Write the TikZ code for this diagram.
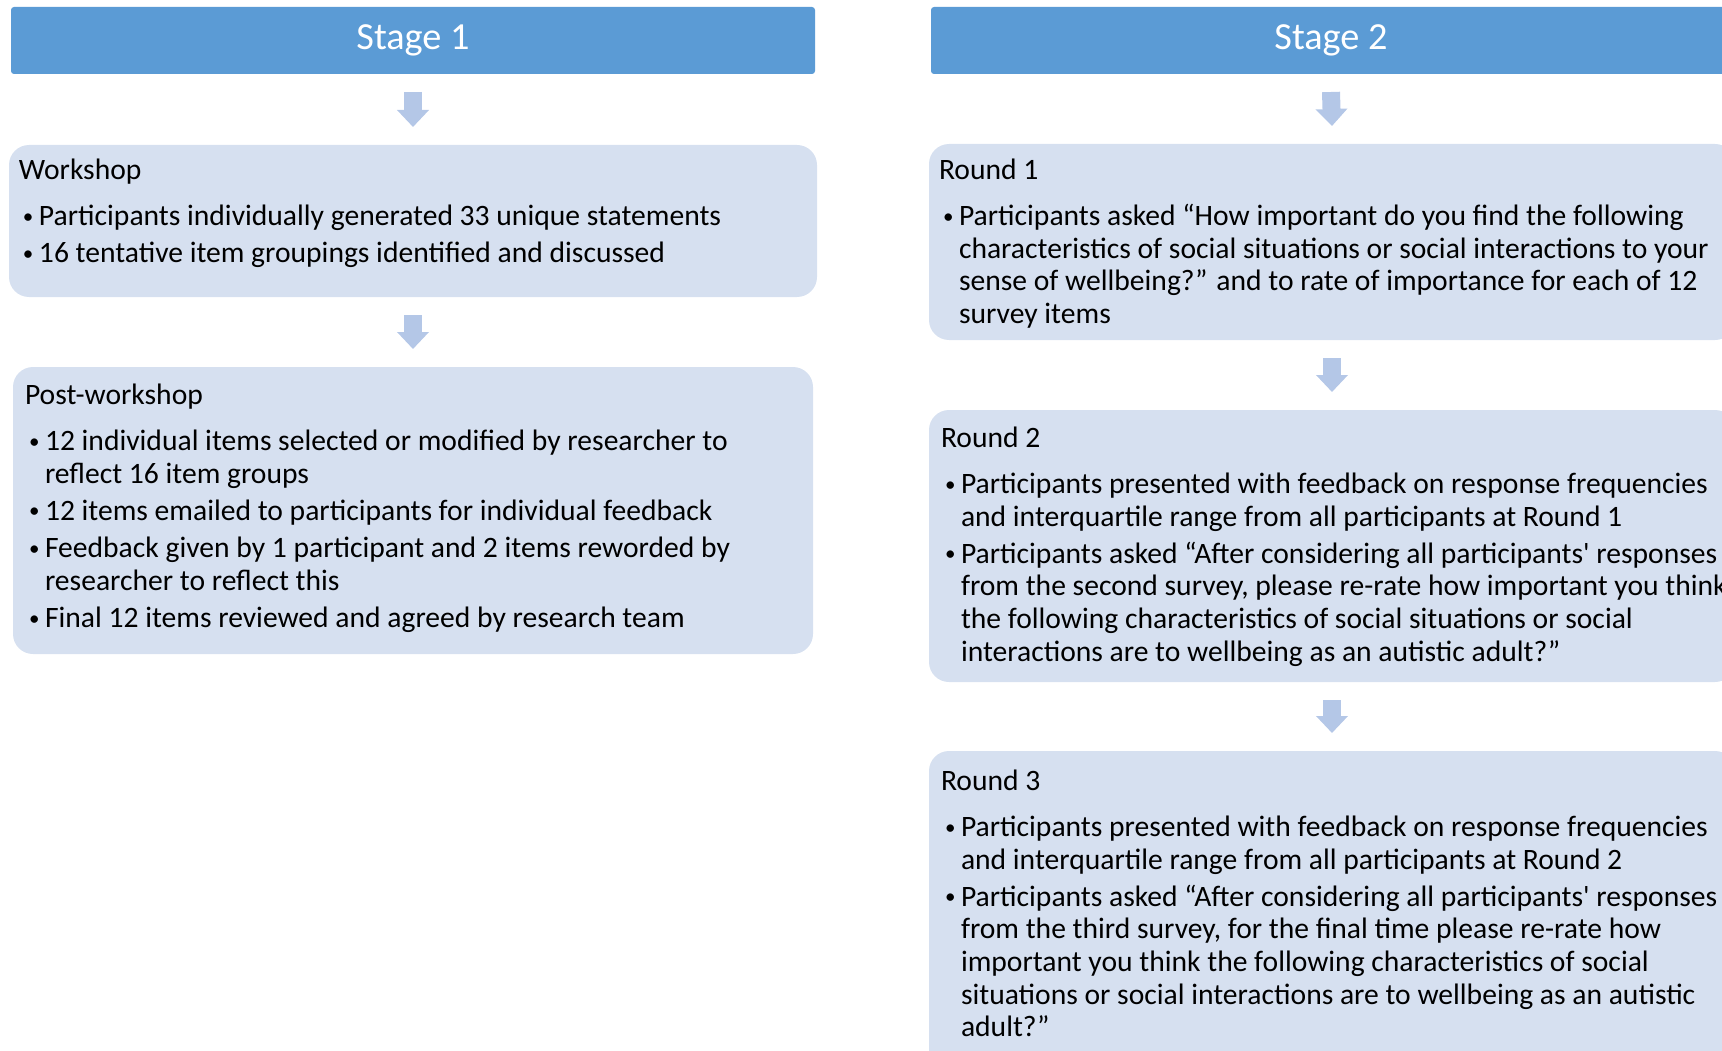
\documentclass[tikz,border=0pt]{standalone}
\usepackage{fontspec}
\setmainfont{Carlito}
\usetikzlibrary{arrows.meta}

\definecolor{stageblue}{RGB}{91,155,213}
\definecolor{roundfill}{RGB}{214,224,240}
\definecolor{arrowblue}{RGB}{180,199,231}

% a smaller bullet, raised to the middle of the x-height
\newcommand{\bul}{\raisebox{2.4pt}{\fontsize{21}{21}\selectfont\textbullet}}

% title row, then bullet rows (bullet & text \\[gap], continuation rows: & text \\)
\newcommand{\boxitems}[2]{%
  \begin{tabular}{@{}p{16pt}@{}l@{}}
    \multicolumn{2}{@{\hspace{-4pt}}l@{}}{#1}\\[13.5pt]
    #2
  \end{tabular}}

\begin{document}
\begin{tikzpicture}[x=1pt, y=-1pt]
        \tikzstyle{every node}=[inner sep=0pt, outer sep=0pt, anchor=north west]
        \tikzstyle{stagebar}=[fill=stageblue, rounded corners=3pt, text=white,
            font=\fontsize{38.3}{45}\selectfont, minimum height=67pt, anchor=north west]
        \tikzstyle{roundbox}=[fill=roundfill, rounded corners=20pt, anchor=north west]
        \tikzstyle{boxtext}=[font=\fontsize{29.6}{32.6}\selectfont, anchor=north west]
        \tikzstyle{flow}=[arrowblue, line width=18pt, -{Triangle[width=31pt, length=17pt]}]

        \useasboundingbox (0,0) rectangle (1722,1051);
        \clip (0,0) rectangle (1722,1051);

        % stage 1
        \node[stagebar, minimum width=804pt] (stage1) at (11,7) {Stage 1};
        \node[roundbox, minimum width=808pt, minimum height=152pt] (work) at (9,145) {};
        \node[roundbox, minimum width=800pt, minimum height=287pt] (post) at (13,367) {};

        \node[boxtext] (worktext) at ([xshift=14pt, yshift=-11.5pt]work.north west) {\boxitems{Workshop}{%
            \bul & Participants individually generated 33 unique statements\\[4.7pt]
            \bul & 16 tentative item groupings identified and discussed}};

        \node[boxtext] (posttext) at ([xshift=16pt, yshift=-14.5pt]post.north west) {\boxitems{Post-workshop}{%
            \bul & 12 individual items selected or modified by researcher to\\
                 & reflect 16 item groups\\[4.7pt]
            \bul & 12 items emailed to participants for individual feedback\\[4.7pt]
            \bul & Feedback given by 1 participant and 2 items reworded by\\
                 & researcher to reflect this\\[4.7pt]
            \bul & Final 12 items reviewed and agreed by research team}};

        % stage 2
        \node[stagebar, minimum width=800pt] (stage2) at (931,7) {Stage 2};
        \node[roundbox, minimum width=806pt, minimum height=196pt] (round1) at (929,144) {};
        \node[roundbox, minimum width=806pt, minimum height=272pt] (round2) at (929,410) {};
        \node[roundbox, minimum width=806pt, minimum height=330pt] (round3) at (929,751) {};

        \node[boxtext] (round1text) at ([xshift=14pt, yshift=-12.5pt]round1.north west) {\boxitems{Round 1}{%
            \bul & Participants asked “How important do you find the following\\
                 & characteristics of social situations or social interactions to your\\
                 & sense of wellbeing?” and to rate of importance for each of 12\\
                 & survey items}};

        \node[boxtext] (round2text) at ([xshift=16pt, yshift=-14.5pt]round2.north west) {\boxitems{Round 2}{%
            \bul & Participants presented with feedback on response frequencies\\
                 & and interquartile range from all participants at Round 1\\[4.7pt]
            \bul & Participants asked “After considering all participants\textquotesingle{} responses\\
                 & from the second survey, please re-rate how important you think\\
                 & the following characteristics of social situations or social\\
                 & interactions are to wellbeing as an autistic adult?”}};

        \node[boxtext] (round3text) at ([xshift=16pt, yshift=-16.5pt]round3.north west) {\boxitems{Round 3}{%
            \bul & Participants presented with feedback on response frequencies\\
                 & and interquartile range from all participants at Round 2\\[4.7pt]
            \bul & Participants asked “After considering all participants\textquotesingle{} responses\\
                 & from the third survey, for the final time please re-rate how\\
                 & important you think the following characteristics of social\\
                 & situations or social interactions are to wellbeing as an autistic\\
                 & adult?”}};

        % block arrows between the steps
        \draw[flow] ([yshift=-18pt]stage1.south) -- ([yshift=18pt]work.north);
        \draw[flow] ([yshift=-18pt]work.south) -- ([yshift=18pt]post.north);
        \draw[flow] ([yshift=-18pt]stage2.south) -- ([yshift=18pt]round1.north);
        \draw[flow] ([yshift=-18pt]round1.south) -- ([yshift=18pt]round2.north);
        \draw[flow] ([yshift=-18pt]round2.south) -- ([yshift=18pt]round3.north);

    \end{tikzpicture}
\end{document}
